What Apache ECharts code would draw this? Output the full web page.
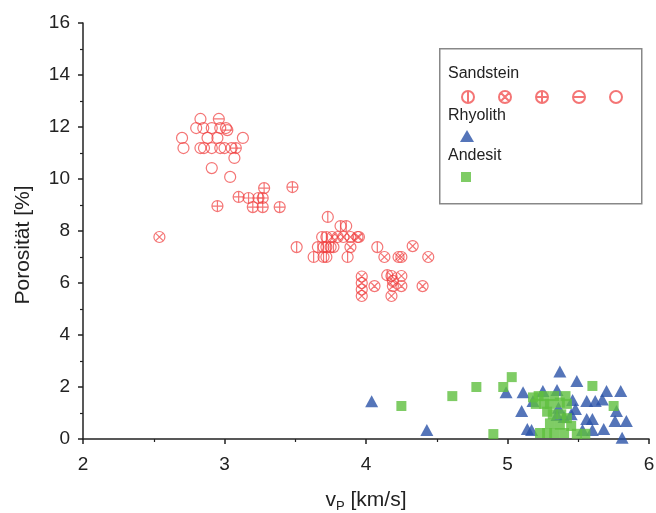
<!DOCTYPE html>
<html>
<head>
<meta charset="utf-8">
<title>Porosität vs vP</title>
<script src="https://cdn.jsdelivr.net/npm/echarts@6/dist/echarts.min.js"></script>
<style>
  html, body { margin: 0; padding: 0; background: #fff; }
  #chart { width: 656px; height: 513px; }
</style>
</head>
<body>
<div id="chart"></div>
<script>
// Sandstein, split by marker type
const sandOpen = [
  [2.83, 12.31], [2.80, 11.96], [2.85, 11.96], [2.91, 11.96], [2.97, 11.96], [3.01, 11.96],
  [2.70, 11.58], [2.88, 11.58], [2.95, 11.58], [3.13, 11.58],
  [2.71, 11.19], [2.83, 11.19], [2.855, 11.19], [2.91, 11.19], [2.97, 11.19], [3.00, 11.19], [3.05, 11.19],
  [3.07, 10.81], [2.91, 10.42], [3.04, 10.08]
]
const sandHLine = [[2.96, 12.31], [3.02, 11.88]]
const sandPlus = [
  [3.08, 11.19], [3.28, 9.65], [3.48, 9.69], [3.10, 9.31], [3.17, 9.27], [3.24, 9.27], [3.27, 9.27],
  [2.95, 8.96], [3.20, 8.92], [3.27, 8.92], [3.39, 8.92]
]
const sandVLine = [
  [3.51, 7.38], [3.73, 8.54], [3.82, 8.19], [3.86, 8.19], [3.69, 7.77], [3.72, 7.77],
  [3.66, 7.38], [3.70, 7.38], [3.72, 7.38], [3.75, 7.38], [3.77, 7.38], [4.08, 7.38],
  [3.63, 7.0], [3.70, 7.0], [3.72, 7.0], [3.87, 7.0], [4.15, 6.3]
]
const sandCross = [
  [2.54, 7.77], [3.76, 7.77], [3.80, 7.77], [3.84, 7.77], [3.89, 7.77], [3.94, 7.77], [3.95, 7.77],
  [3.89, 7.38], [4.33, 7.42], [4.13, 7.0], [4.23, 7.0], [4.25, 7.0], [4.44, 7.0],
  [3.97, 6.25], [3.97, 6.0], [3.97, 5.75], [3.97, 5.5], [4.06, 5.88],
  [4.18, 6.27], [4.25, 6.27], [4.19, 5.88], [4.25, 5.88], [4.18, 5.5], [4.40, 5.88], [4.19, 6.08]
]
const rhyolith = [
  [4.04, 1.45], [4.43, 0.35], [4.99, 1.8], [5.11, 1.8], [5.10, 1.08], [5.17, 0.35], [5.18, 1.46],
  [5.25, 1.85], [5.35, 1.88], [5.37, 2.6], [5.49, 2.23], [5.46, 1.5], [5.36, 1.2], [5.35, 0.92],
  [5.40, 0.85], [5.45, 0.95], [5.48, 1.15], [5.56, 1.46], [5.62, 1.46], [5.67, 1.52], [5.70, 1.85],
  [5.80, 1.85], [5.77, 1.08], [5.56, 0.77], [5.60, 0.77], [5.76, 0.69], [5.84, 0.69], [5.53, 0.35],
  [5.60, 0.35], [5.68, 0.38], [5.81, 0.05], [5.14, 0.38]
]
const andesit = [
  [4.25, 1.27], [4.61, 1.65], [4.78, 2.0], [4.90, 0.19], [4.97, 2.0], [5.03, 2.38], [5.18, 1.6],
  [5.22, 1.65], [5.26, 1.65], [5.33, 1.65], [5.41, 1.65], [5.20, 1.35], [5.26, 1.35], [5.30, 1.35],
  [5.37, 1.4], [5.42, 1.35], [5.28, 1.05], [5.32, 0.95], [5.38, 0.95], [5.42, 0.8], [5.30, 0.6],
  [5.37, 0.55], [5.45, 0.5], [5.23, 0.23], [5.28, 0.23], [5.33, 0.23], [5.40, 0.23], [5.49, 0.2],
  [5.55, 0.2], [5.60, 2.04], [5.75, 1.27]
]

const groupTitles = ["Sandstein", "Rhyolith", "Andesit"]

const FONT = "'Liberation Sans', Arial, sans-serif"
const RED = "#f03a3a"

// hollow circle markers with inner strokes
const ring = "M-10,0 A10,10 0 1,0 10,0 A10,10 0 1,0 -10,0 Z"
const symbols = {
  vline: "path://" + ring + " M0,-10 L0,10",
  cross: "path://" + ring + " M-7.07,-7.07 L7.07,7.07 M-7.07,7.07 L7.07,-7.07",
  plus: "path://" + ring + " M0,-10 L0,10 M-10,0 L10,0",
  hline: "path://" + ring + " M-10,0 L10,0",
  open: "path://" + ring
}

function sandSeries(name, sym, data) {
  return {
    name,
    type: "scatter",
    data,
    symbol: symbols[sym],
    symbolSize: 11,
    itemStyle: { color: "rgba(255,255,255,0)", borderColor: RED, borderWidth: 1.2, opacity: 0.7 }
  }
}

const chart = echarts.init(document.getElementById("chart"))

chart.setOption({
  animation: false,
  backgroundColor: "#fff",
  textStyle: { fontFamily: FONT },
  grid: { left: 83, right: 7, top: 23, bottom: 74, outerBoundsMode: "none" },
  xAxis: {
    type: "value",
    min: 2, max: 6, interval: 1,
    name: "v{sub|P} [km/s]",
    nameLocation: "middle",
    nameGap: 49,
    nameTextStyle: {
      fontSize: 21, color: "#222", fontFamily: FONT,
      rich: { sub: { fontSize: 13, verticalAlign: "bottom", padding: [12, 0, 0, 0], color: "#222", fontFamily: FONT } }
    },
    axisLine: { lineStyle: { color: "#222", width: 1.5 } },
    axisTick: { length: 5, lineStyle: { color: "#222", width: 1.5 } },
    minorTick: { show: true, splitNumber: 2, length: 3, lineStyle: { color: "#222", width: 1.2 } },
    axisLabel: { fontSize: 19, color: "#222", margin: 16, fontFamily: FONT },
    splitLine: { show: false }
  },
  yAxis: {
    type: "value",
    min: 0, max: 16, interval: 2,
    name: "Porosität [%]",
    nameLocation: "middle",
    nameGap: 49,
    nameTextStyle: { fontSize: 21, color: "#222", fontFamily: FONT, padding: [0, 28, 0, 0] },
    axisLine: { lineStyle: { color: "#222", width: 1.5 } },
    axisTick: { length: 5, lineStyle: { color: "#222", width: 1.5 } },
    minorTick: { show: true, splitNumber: 2, length: 3, lineStyle: { color: "#222", width: 1.2 } },
    axisLabel: { fontSize: 19, color: "#222", margin: 13, fontFamily: FONT },
    splitLine: { show: false }
  },
  legend: [
    {
      data: ["Sandstein Φ", "Sandstein ⊗", "Sandstein ⊕", "Sandstein ⊖", "Sandstein O"],
      left: 461, top: 90, padding: 0,
      itemWidth: 12, itemHeight: 12, itemGap: 23,
      formatter: () => "", selectedMode: false
    },
    {
      data: ["Rhyolith"],
      left: 460, top: 130, padding: 0,
      itemWidth: 14, itemHeight: 12,
      formatter: () => "", selectedMode: false
    },
    {
      data: ["Andesit"],
      left: 461, top: 172, padding: 0,
      itemWidth: 10, itemHeight: 10,
      formatter: () => "", selectedMode: false
    }
  ],
  graphic: [
    {
      type: "rect", left: 439, top: 48, z: -1,
      shape: { width: 202, height: 155 },
      style: { fill: "#fff", stroke: "#888", lineWidth: 1.5 }
    },
    ...groupTitles.map((t, i) => ({
      type: "text", left: 448, top: [66, 108, 148][i],
      style: { text: t, fontSize: 16, fontFamily: FONT, fill: "#222" }
    }))
  ],
  series: [
    sandSeries("Sandstein Φ", "vline", sandVLine),
    sandSeries("Sandstein ⊗", "cross", sandCross),
    sandSeries("Sandstein ⊕", "plus", sandPlus),
    sandSeries("Sandstein ⊖", "hline", sandHLine),
    sandSeries("Sandstein O", "open", sandOpen),
    {
      name: "Rhyolith",
      type: "scatter",
      data: rhyolith,
      symbol: "triangle",
      symbolSize: [13, 12],
      itemStyle: { color: "#2a52a8" }
    },
    {
      name: "Andesit",
      type: "scatter",
      data: andesit,
      symbol: "rect",
      symbolSize: 10,
      itemStyle: { color: "#5fbf3f" }
    }
  ]
})
</script>
</body>
</html>
